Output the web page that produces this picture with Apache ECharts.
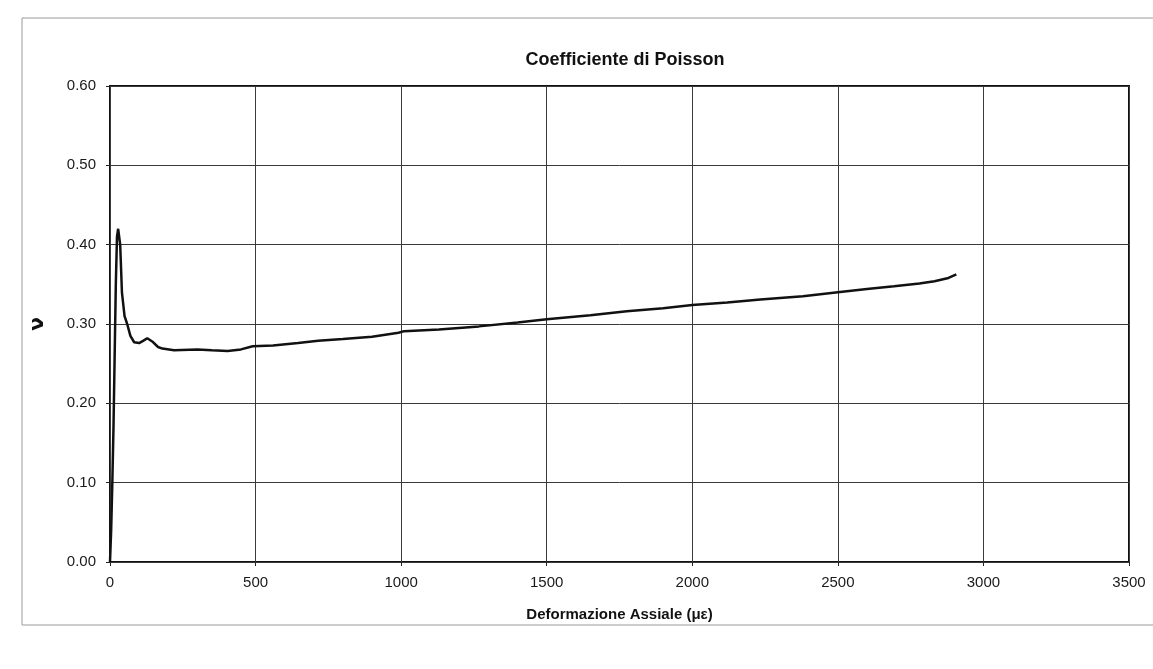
<!DOCTYPE html>
<html>
<head>
<meta charset="utf-8">
<title>Coefficiente di Poisson</title>
<script src="https://cdn.jsdelivr.net/npm/echarts@6/dist/echarts.min.js"></script>
<style>
  html, body { margin: 0; padding: 0; background: #fff; }
  #chart { width: 1153px; height: 669px; }
</style>
</head>
<body>
<div id="chart"></div>
<script>
// axial strain (µε) and Poisson ratio
const strain = [0, 4, 8, 12, 16, 20, 24, 28, 35, 41, 50, 59, 70, 83, 100, 115, 128, 145, 165, 180, 220, 300, 350, 404, 450, 490, 560, 646, 715, 800, 900, 991, 1010, 1130, 1267, 1400, 1500, 1650, 1775, 1900, 2000, 2120, 2234, 2380, 2500, 2600, 2693, 2780, 2832, 2880, 2907];
const poisson = [0, 0.04, 0.10, 0.17, 0.26, 0.35, 0.41, 0.42, 0.40, 0.34, 0.31, 0.30, 0.285, 0.277, 0.276, 0.279, 0.282, 0.278, 0.271, 0.269, 0.267, 0.268, 0.267, 0.266, 0.268, 0.272, 0.273, 0.276, 0.279, 0.281, 0.284, 0.289, 0.291, 0.293, 0.297, 0.302, 0.306, 0.311, 0.316, 0.320, 0.324, 0.327, 0.331, 0.335, 0.340, 0.344, 0.3475, 0.351, 0.354, 0.358, 0.3625];

const xTicks = { min: 0, max: 3500, interval: 500 };
const yTicks = { min: 0, max: 0.6, interval: 0.1 };

const chart = echarts.init(document.getElementById("chart"));

const labelFont = { color: "#1a1a1a", fontSize: 15, fontFamily: "Liberation Sans, Arial, sans-serif" };

chart.setOption({
  animation: false,
  title: {
    text: "Coefficiente di Poisson",
    left: 620,
    top: 46,
    textAlign: "center",
    textStyle: { fontSize: 18, fontWeight: "bold", color: "#111", fontFamily: "Liberation Sans, Arial, sans-serif" },
  },
  graphic: [
    {
      type: "rect",
      shape: { x: 22, y: 18, width: 1160, height: 607 },
      style: { fill: "none", stroke: "#9a9a9a", lineWidth: 1 },
      silent: true,
    },
  ],
  grid: {
    left: 110,
    right: 24,
    top: 86,
    bottom: 107,
    show: true,
    borderColor: "#111",
    borderWidth: 2,
    backgroundColor: "#fff",
  },
  xAxis: {
    type: "value",
    min: xTicks.min,
    max: xTicks.max,
    interval: xTicks.interval,
    name: "Deformazione Assiale (με)",
    nameLocation: "middle",
    nameGap: 45,
    nameTextStyle: { fontSize: 15, fontWeight: "bold", color: "#111", fontFamily: "Liberation Sans, Arial, sans-serif" },
    axisLine: { show: false },
    axisTick: { show: true, length: 4, lineStyle: { color: "#222" } },
    axisLabel: Object.assign({ margin: 13, formatter: (v) => String(v) }, labelFont),
    splitLine: { show: true, lineStyle: { color: "#3a3a3a", width: 1 } },
  },
  yAxis: {
    type: "value",
    min: yTicks.min,
    max: yTicks.max,
    interval: yTicks.interval,
    name: "ν",
    nameLocation: "middle",
    nameGap: 62,
    nameRotate: 90,
    nameTextStyle: { fontSize: 20, fontWeight: "bold", color: "#111", fontFamily: "DejaVu Sans, sans-serif" },
    axisLine: { show: false },
    axisTick: { show: true, length: 4, lineStyle: { color: "#222" } },
    axisLabel: Object.assign({ margin: 14, formatter: (v) => v.toFixed(2) }, labelFont),
    splitLine: { show: true, lineStyle: { color: "#3a3a3a", width: 1 } },
  },
  series: [
    {
      type: "line",
      data: strain.map((x, i) => [x, poisson[i]]),
      showSymbol: false,
      smooth: false,
      lineStyle: { color: "#111", width: 2.5 },
    },
  ],
});
</script>
</body>
</html>
